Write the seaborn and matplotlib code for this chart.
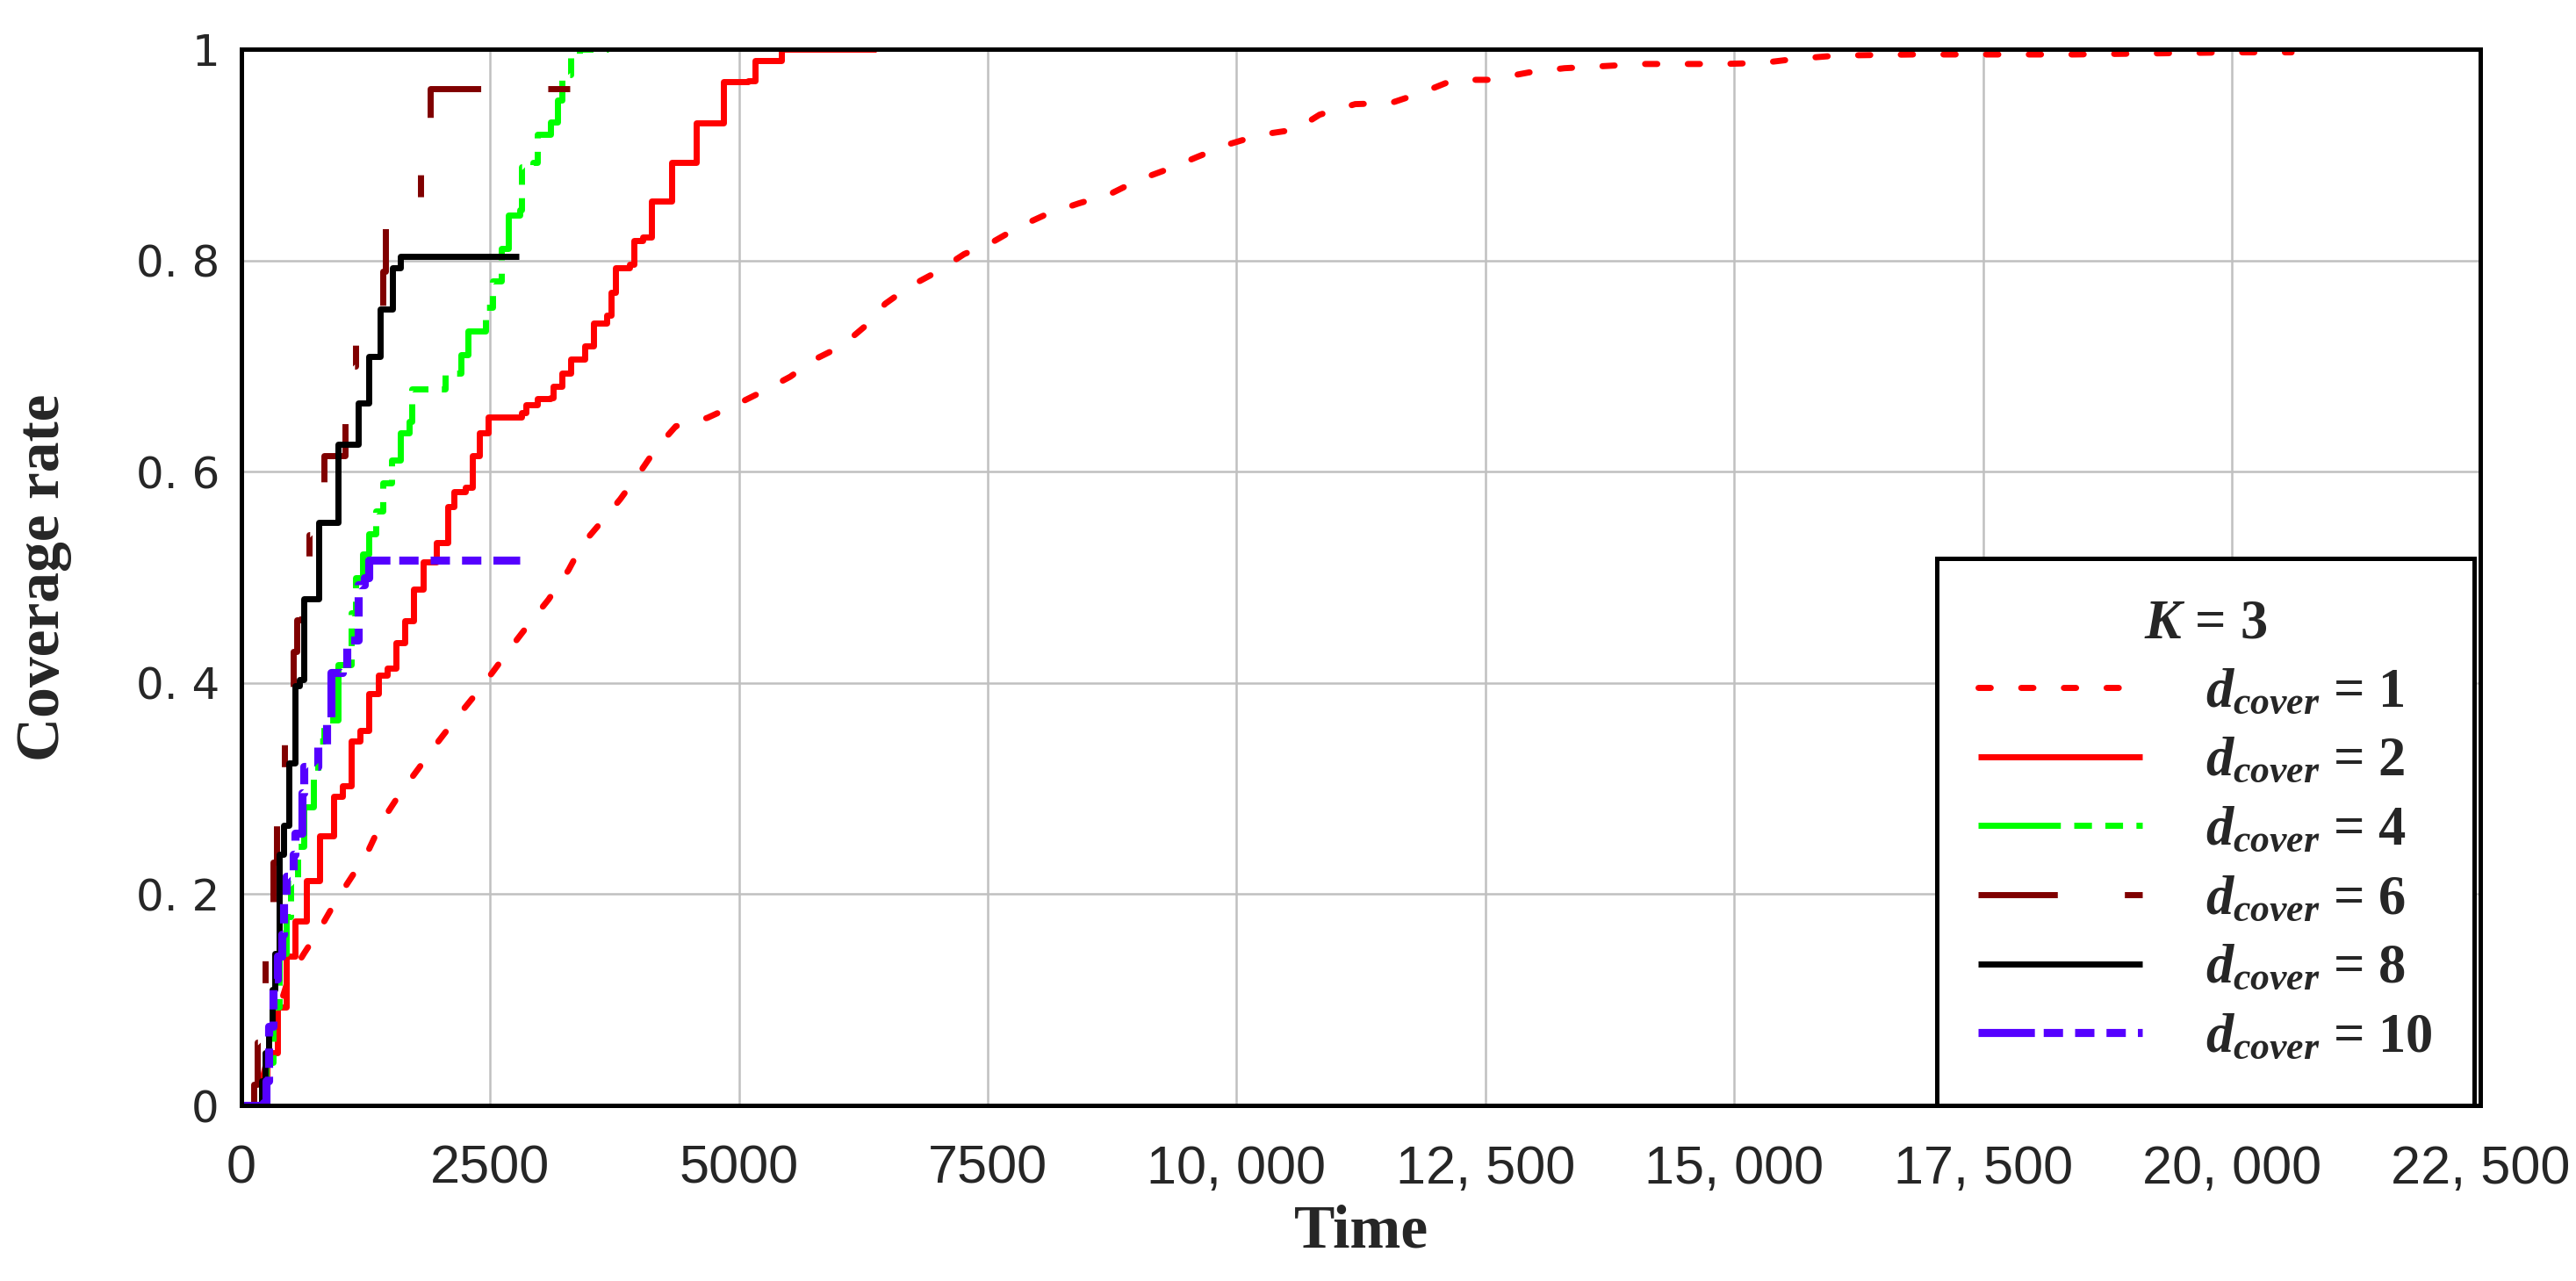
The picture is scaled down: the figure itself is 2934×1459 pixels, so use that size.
import numpy as np
import pandas as pd
import seaborn as sns
import matplotlib.pyplot as plt
from matplotlib import font_manager
from matplotlib.ticker import FixedLocator

# ---- data (time, coverage rate) ----
t_d1 = [0, 150, 250, 360, 473, 630, 788, 946, 1126, 1284, 1419, 1599, 1780, 1982, 2162,
        2343, 2523, 2703, 2883, 3086, 3288, 3424, 3649, 3807, 4008, 4167, 4365, 4682,
        4960, 5238, 5516, 5754, 6032, 6270, 6469, 6707, 6985, 7262, 7540, 7818, 8096,
        8413, 8731, 9009, 9326, 9604, 9921, 10239, 10596, 10834, 11191, 11548, 11866,
        12183, 12540, 12937, 13294, 13691, 14088, 14485, 14882, 15279, 15636, 16033,
        16800, 17600, 18400, 19200, 20000, 20600]
cov_d1 = [0, 0.0, 0.04, 0.086, 0.12, 0.144, 0.167, 0.193, 0.219, 0.243, 0.27, 0.296,
          0.319, 0.345, 0.367, 0.388, 0.41, 0.433, 0.455, 0.479, 0.507, 0.531, 0.556,
          0.574, 0.6, 0.622, 0.643, 0.651, 0.663, 0.676, 0.69, 0.706, 0.719, 0.738,
          0.759, 0.775, 0.789, 0.806, 0.817, 0.832, 0.844, 0.854, 0.863, 0.876, 0.887,
          0.898, 0.91, 0.919, 0.924, 0.938, 0.948, 0.949, 0.959, 0.971, 0.971, 0.978,
          0.982, 0.984, 0.986, 0.986, 0.986, 0.987, 0.991, 0.994, 0.995, 0.995, 0.995,
          0.996, 0.997, 0.997]

t_d2 = [0, 170, 260, 360, 450, 540, 653, 788, 923, 1014, 1104, 1194, 1284, 1374, 1464,
        1554, 1644, 1734, 1825, 1960, 2072, 2140, 2253, 2320, 2388, 2478, 2816, 2861,
        2973, 3108, 3131, 3221, 3311, 3446, 3537, 3672, 3717, 3762, 3897, 3942, 4032,
        4122, 4257, 4325, 4482, 4572, 4730, 4843, 5090, 5158, 5383, 5428, 6380]
cov_d2 = [0, 0.0, 0.05, 0.093, 0.141, 0.175, 0.213, 0.255, 0.293, 0.303, 0.345, 0.355,
          0.39, 0.407, 0.414, 0.438, 0.459, 0.489, 0.515, 0.533, 0.567, 0.581, 0.585,
          0.615, 0.637, 0.652, 0.656, 0.663, 0.669, 0.67, 0.681, 0.693, 0.707, 0.719,
          0.741, 0.748, 0.77, 0.793, 0.796, 0.819, 0.822, 0.856, 0.856, 0.893, 0.893,
          0.93, 0.93, 0.969, 0.97, 0.989, 0.989, 1.0, 1.0]

t_d4 = [0, 180, 203, 248, 315, 383, 450, 495, 563, 630, 720, 766, 833, 968, 1104, 1149,
        1216, 1284, 1351, 1419, 1509, 1599, 1689, 1712, 1915, 2050, 2208, 2275, 2365,
        2455, 2523, 2613, 2681, 2793, 2816, 2928, 2973, 3108, 3176, 3221, 3311, 3401,
        3690]
cov_d4 = [0, 0.0, 0.01, 0.041, 0.093, 0.144, 0.179, 0.21, 0.245, 0.283, 0.317, 0.345,
          0.365, 0.417, 0.466, 0.5, 0.522, 0.541, 0.563, 0.589, 0.611, 0.637, 0.648,
          0.678, 0.678, 0.693, 0.711, 0.733, 0.733, 0.756, 0.781, 0.811, 0.843, 0.848,
          0.889, 0.893, 0.919, 0.931, 0.952, 0.976, 0.996, 1.0, 1.0]

t_d6 = [0, 120, 160, 200, 240, 280, 320, 350, 390, 430, 470, 520, 560, 610, 680, 765,
        800, 833, 1040, 1080, 1150, 1256, 1419, 1450, 1667, 1802, 1840, 1900, 3490]
cov_d6 = [0, 0.02, 0.06, 0.10, 0.14, 0.19, 0.23, 0.27, 0.31, 0.35, 0.39, 0.43, 0.46,
          0.50, 0.54, 0.555, 0.59, 0.615, 0.67, 0.70, 0.72, 0.73, 0.79, 0.84, 0.845,
          0.907, 0.93, 0.963, 0.963]

t_d8 = [0, 160, 203, 240, 270, 310, 338, 383, 428, 473, 540, 585, 630, 780, 968, 1171,
        1284, 1396, 1518, 1599, 2790]
cov_d8 = [0, 0.0, 0.023, 0.05, 0.075, 0.11, 0.144, 0.238, 0.265, 0.324, 0.397, 0.403,
          0.48, 0.552, 0.626, 0.665, 0.709, 0.754, 0.793, 0.804, 0.804]

t_d10 = [0, 225, 248, 270, 315, 360, 405, 428, 450, 518, 540, 608, 630, 766, 856, 901,
         1014, 1059, 1171, 1239, 1284, 2793]
cov_d10 = [0, 0.003, 0.023, 0.075, 0.12, 0.141, 0.162, 0.196, 0.217, 0.238, 0.258, 0.296,
           0.321, 0.341, 0.365, 0.41, 0.414, 0.441, 0.493, 0.5, 0.516, 0.516]

x_ticks = [0, 2500, 5000, 7500, 10000, 12500, 15000, 17500, 20000, 22500]
x_labels = ['0', '2500', '5000', '7500', '10, 000', '12, 500', '15, 000', '17, 500',
            '20, 000', '22, 500']
y_ticks = [0, 0.2, 0.4, 0.6, 0.8, 1.0]
y_labels = ['0', '0. 2', '0. 4', '0. 6', '0. 8', '1']

# name, x, y, colour, width, dash pattern (in line widths), drawstyle
series = [
    ('1', t_d1, cov_d1, '#ff0000', 2.5, (2.0, 5.0), 'default'),
    ('2', t_d2, cov_d2, '#ff0000', 2.5, None, 'steps-post'),
    ('4', t_d4, cov_d4, '#00ff00', 2.5, (13.5, 2.2, 2.9, 2.2, 2.9, 2.2), 'steps-post'),
    ('6', t_d6, cov_d6, '#800000', 2.5, (13, 11, 3.6, 11), 'steps-post'),
    ('8', t_d8, cov_d8, '#000000', 2.5, None, 'steps-post'),
    ('10', t_d10, cov_d10, '#5500ff', 3.3, (7.0, 1.1, 2.4, 1.5, 2.4, 1.5, 2.4, 1.5), 'steps-post'),
]

sns.set_theme(style='whitegrid')
plt.rcParams['font.family'] = ['Liberation Sans', 'DejaVu Sans']
plt.rcParams['mathtext.fontset'] = 'custom'
plt.rcParams['mathtext.it'] = 'Liberation Serif:italic:bold'
plt.rcParams['mathtext.rm'] = 'Liberation Serif:bold'

installed = {f.name for f in font_manager.fontManager.ttflist}
if 'Liberation Sans Narrow' in installed:
    xtick_font, xtick_size = 'Liberation Sans Narrow', 25
else:
    xtick_font, xtick_size = 'Liberation Sans', 22

fig, ax = plt.subplots(figsize=(14.67, 7.295), dpi=200)
fig.subplots_adjust(left=0.0937, right=0.963, top=0.9616, bottom=0.137)

for name, t, c, color, lw, dash, ds in series:
    df = pd.DataFrame({'Time': t, 'Coverage rate': c})
    sns.lineplot(data=df, x='Time', y='Coverage rate', ax=ax, color=color, lw=lw,
                 estimator=None, sort=False, drawstyle=ds,
                 label=r'$d_{cover}$ = ' + name)
    line = ax.lines[-1]
    if dash is not None:
        line.set_dashes(dash)
    line.set_solid_capstyle('butt')
    line.set_dash_capstyle('round' if name == '1' else 'butt')

ax.set_xlim(0, 22500)
ax.set_ylim(0, 1)
ax.xaxis.set_major_locator(FixedLocator(x_ticks))
ax.yaxis.set_major_locator(FixedLocator(y_ticks))
ax.set_xticklabels(x_labels, fontsize=xtick_size, family=xtick_font)
ax.set_yticklabels(y_labels, fontsize=18, family='DejaVu Sans')
ax.tick_params(axis='x', length=0, pad=16)
ax.tick_params(axis='y', length=0, pad=9)
ax.grid(True, color='#c0c0c0', lw=0.9)
for s in ax.spines.values():
    s.set_color('black')
    s.set_linewidth(1.8)

ax.set_xlabel('Time', family='Liberation Serif', fontweight='bold', fontsize=25, labelpad=4)
ax.set_ylabel('Coverage rate', family='Liberation Serif', fontweight='bold', fontsize=25,
              labelpad=26)

leg = ax.legend(title=r'$K$ = 3', loc='lower right', bbox_to_anchor=(0.997, 0.0),
                borderaxespad=0, fancybox=False, framealpha=1, edgecolor='black',
                prop={'family': 'Liberation Serif', 'weight': 'bold', 'size': 22.5},
                handlelength=3.0, handletextpad=1.15, labelspacing=0.33,
                borderpad=0.75, alignment='center')
leg.get_title().set_fontsize(22.5)
leg.get_title().set_fontweight('bold')
leg.get_title().set_family('Liberation Serif')
leg.get_frame().set_linewidth(1.8)

plt.savefig('out.png', dpi=200)
